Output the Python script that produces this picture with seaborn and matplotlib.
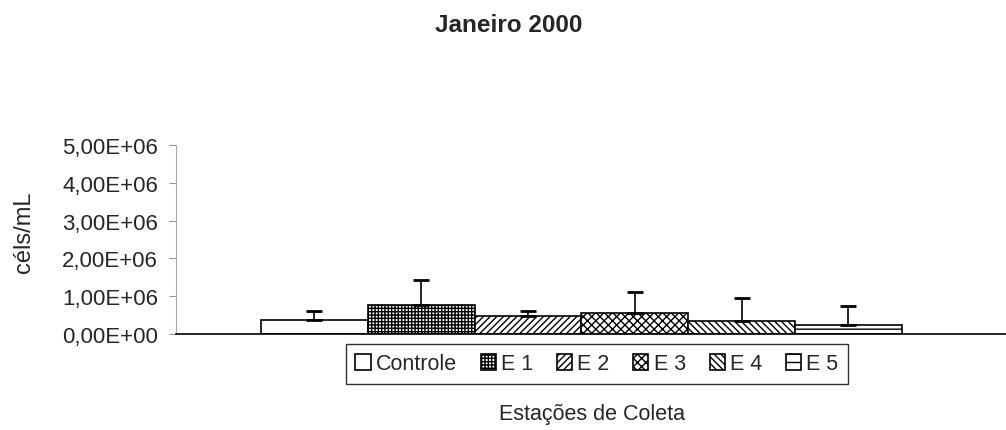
import matplotlib
matplotlib.use("Agg")
import matplotlib.pyplot as plt
import seaborn as sns
import pandas as pd
from matplotlib.ticker import FuncFormatter

# valores (céls/mL)
estacoes = ["Controle", "E 1", "E 2", "E 3", "E 4", "E 5"]
media = [0.37e6, 0.77e6, 0.48e6, 0.55e6, 0.35e6, 0.24e6]
desvio = [0.24e6, 0.66e6, 0.12e6, 0.55e6, 0.60e6, 0.51e6]
hachuras = ["", "+++++", "/////", "xxxx", "\\\\\\\\\\", "--"]

df = pd.DataFrame({"mes": ["Janeiro 2000"] * len(estacoes),
                   "estacao": estacoes, "valor": media})

sns.set_style("white")
plt.rcParams["font.family"] = ["Liberation Sans", "DejaVu Sans"]
plt.rcParams["hatch.linewidth"] = 1.0

fig = plt.figure(figsize=(10.06, 4.31), dpi=100)
ax = fig.add_axes([176 / 1006, 1 - 335 / 431, 830 / 1006, 189 / 431])

sns.barplot(data=df, x="mes", y="valor", hue="estacao", hue_order=estacoes,
            palette=["white"] * len(estacoes), edgecolor="black", linewidth=1.2,
            width=0.8, errorbar=None, legend=False, ax=ax)

barras = list(ax.containers)
for i, cont in enumerate(barras):
    for bar in cont:
        bar.set_hatch(hachuras[i])
        bar.set_edgecolor("black")
        x = bar.get_x() + bar.get_width() / 2
        ax.errorbar(x, media[i], yerr=[[0], [desvio[i]]], fmt="none",
                    ecolor="black", elinewidth=1.2, capsize=6, capthick=2)

ax.set_xlim(-0.506, 0.530)
ax.set_ylim(0, 5e6)
ax.set_yticks([0, 1e6, 2e6, 3e6, 4e6, 5e6])
ax.yaxis.set_major_formatter(FuncFormatter(lambda v, p: f"{v:.2E}".replace(".", ",")))
ax.set_xticks([])
ax.set_xlabel("")
ax.set_ylabel("")
ax.tick_params(axis="y", left=True, length=5, width=0.8, color="#999999",
               labelsize=16, pad=8)

for s in ["top", "right"]:
    ax.spines[s].set_visible(False)
ax.spines["left"].set_color("#aaaaaa")
ax.spines["left"].set_linewidth(0.8)
ax.spines["bottom"].set_color("black")
ax.spines["bottom"].set_linewidth(1.2)

handles = [c[0] for c in barras]
leg = fig.legend(handles, estacoes, loc="center", bbox_to_anchor=(597 / 1006, 1 - 365 / 431),
                 ncol=6, frameon=True, fancybox=False, edgecolor="black",
                 fontsize=15.5, handlelength=0.7, handleheight=0.7,
                 handletextpad=0.25, columnspacing=1.1, borderpad=0.45,
                 borderaxespad=0)
leg.get_frame().set_linewidth(1.0)

fig.text(509 / 1006, 1 - 25 / 431, "Janeiro 2000", ha="center", va="center",
         fontsize=17.5, fontweight="bold")
fig.text(592 / 1006, 1 - 415 / 431, "Estações de Coleta", ha="center", va="center",
         fontsize=15.5)
fig.text(24 / 1006, 1 - 232 / 431, "céls/mL", ha="center", va="center",
         rotation=90, fontsize=17)

fig.savefig("out.png", dpi=100, facecolor="white")
